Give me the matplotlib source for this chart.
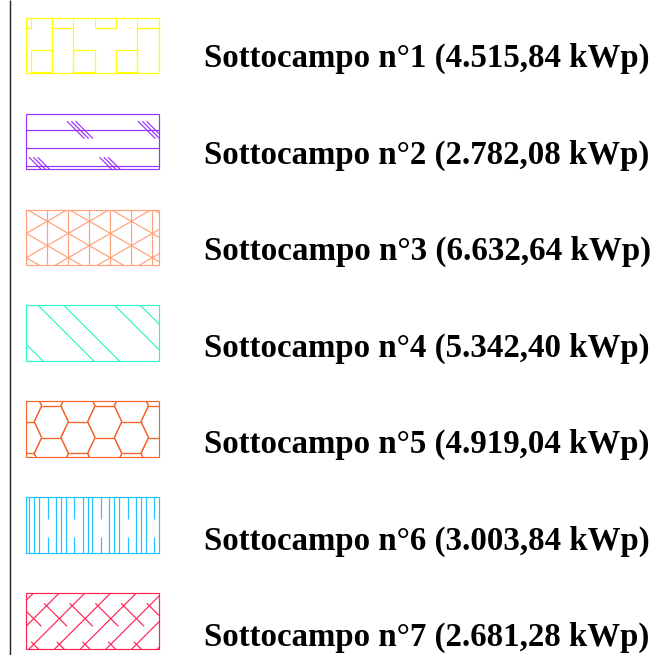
import numpy as np
import matplotlib
matplotlib.use("Agg")
import matplotlib.pyplot as plt
from matplotlib.collections import LineCollection
from matplotlib.patches import Rectangle

# ---- data ----
subfields = ["Sottocampo n°1", "Sottocampo n°2", "Sottocampo n°3", "Sottocampo n°4",
             "Sottocampo n°5", "Sottocampo n°6", "Sottocampo n°7"]
power_kwp = [4515.84, 2782.08, 6632.64, 5342.40, 4919.04, 3003.84, 2681.28]
colors = ["#ffff00", "#9933ff", "#ffa07a", "#2ff5c5", "#f5652a", "#22c4ff", "#ff2255"]
patterns = ["bricks", "roof", "triang", "diag", "hex", "bars", "weave"]


def fmt_it(v):
    s = f"{v:,.2f}"
    return s.replace(",", "X").replace(".", ",").replace("X", ".")


W, H = 658, 655
fig = plt.figure(figsize=(W / 100, H / 100), dpi=100)
ax = fig.add_axes([0, 0, 1, 1])
ax.set_xlim(0, W)
ax.set_ylim(H, 0)
ax.axis("off")

RX, RW, RH = 26.3, 133.0, 55.6
TOP0, STEP = 17.7, 95.93
BASE0, BSTEP = 66.8, 96.55
LW = 0.85
TEXT_X, TEXT_W = 204, 446


def pat_bricks(w, h):
    segs = []
    P = 85.3
    for t in np.arange(-59.6, w + P, P):
        segs += [[(t, 0), (t, h)], [(t + 21.3, 0), (t + 21.3, h)],
                 [(t, 10.6), (t + 21.3, 10.6)]]
        for a in (t + 21.3, t + 64):
            b = a + 21.3
            segs += [[(a, 32), (b, 32)], [(a, 54), (b, 54)],
                     [(a, 32), (a, 54)], [(b, 32), (b, 54)]]
        a, b = t + 42.7, t + 64
        segs += [[(a, 0), (a, 10.6)], [(b, 0), (b, 10.6)], [(a, 10.6), (b, 10.6)]]
    return segs


def pat_roof(w, h):
    segs = []
    for y in (16.3, 34.3, 52.3):
        segs.append([(0, y), (w, y)])
    groups = [(53.7, 16.3), (124.7, 16.3), (15.7, 52.3), (86.2, 52.3)]
    for cx, cy in groups:
        for off in (-4.3, 0, 4.3):
            segs.append([(cx + off - 8.7, cy - 8.7), (cx + off + 8.7, cy + 8.7)])
    return segs


def pat_triang(w, h):
    segs = []
    for x in np.arange(0, w + 1, 21):
        segs.append([(x, 0), (x, h)])
    s = 12.15 / 21
    for m in range(-12, 12):
        c = 11.7 + 24.3 * m
        segs.append([(-10, c + s * (-10 - 21)), (w + 10, c + s * (w + 10 - 21))])
        segs.append([(-10, c - s * (-10 - 21)), (w + 10, c - s * (w + 10 - 21))])
    return segs


def pat_diag(w, h):
    segs = []
    for k in range(-2, 3):
        for x0 in (12 + 76.5 * k, 37.7 + 76.5 * k):
            segs.append([(x0, 0), (x0 + h, h)])
    return segs


def pat_hex(w, h):
    segs = []
    a2, dx, hh = 9.7, 7.5, 15.85
    for i in range(-2, 8):
        cx = 25 + 26.7 * i
        for j in range(-1, 3):
            cy = 20.3 + hh * (i % 2) + 2 * hh * j
            pts = [(cx - a2, cy - hh), (cx + a2, cy - hh), (cx + a2 + dx, cy),
                   (cx + a2, cy + hh), (cx - a2, cy + hh), (cx - a2 - dx, cy),
                   (cx - a2, cy - hh)]
            for p, q in zip(pts[:-1], pts[1:]):
                segs.append([p, q])
    return segs


def pat_bars(w, h):
    segs = []
    P = 26.67
    for k in range(-1, 6):
        b = P * k
        for off in (3, 8, 12.7):
            segs.append([(b + off, 0), (b + off, h)])
        x = b + 21.4
        segs.append([(x, 0), (x, 21.4)])
        segs.append([(x, 39.7), (x, h)])
    return segs


def pat_weave(w, h):
    segs = []
    P = 25.7

    def xy(p, q):
        return ((p + q) / 2, (p - q) / 2)
    for k in range(-1, 10):
        p = 7 + P * k
        segs.append([xy(p, -200), xy(p, 300)])
    Q = 3 * P
    for k in range(-1, 10):
        pk = 7 + P * k
        for j in range(-6, 8):
            q = -18 + Q * j + (k % 3) * P
            segs.append([xy(pk - 5, q), xy(pk + 1.6 * P, q)])
    return segs


funcs = {"bricks": pat_bricks, "roof": pat_roof, "triang": pat_triang,
         "diag": pat_diag, "hex": pat_hex, "bars": pat_bars, "weave": pat_weave}

fig.canvas.draw()
renderer = fig.canvas.get_renderer()

for i, (name, pw, col, pat) in enumerate(zip(subfields, power_kwp, colors, patterns)):
    top = TOP0 + STEP * i
    rect = Rectangle((RX, top), RW, RH, fill=False, edgecolor=col, linewidth=LW, zorder=3)
    ax.add_patch(rect)
    segs = funcs[pat](RW, RH)
    segs = [[(RX + x, top + y) for x, y in s] for s in segs]
    lc = LineCollection(segs, colors=col, linewidths=LW, zorder=2)
    ax.add_collection(lc)
    lc.set_clip_path(rect)
    t = ax.text(TEXT_X, BASE0 + BSTEP * i, f"{name} ({fmt_it(pw)} kWp)",
                fontsize=25, fontweight="bold", family="Liberation Serif",
                color="black", va="baseline", ha="left")
    wpx = t.get_window_extent(renderer).width
    t.set_fontsize(25 * TEXT_W / wpx)

ax.plot([9.5, 9.5], [0, H], color="#222222", linewidth=1.0, solid_capstyle="butt")

fig.savefig("out.png", dpi=100)
